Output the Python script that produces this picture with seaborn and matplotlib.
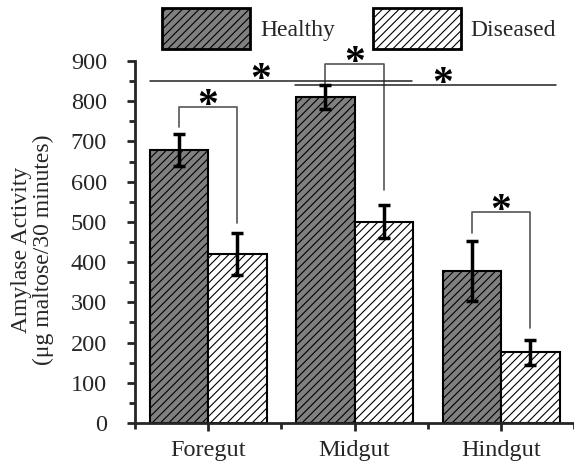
import numpy as np
import pandas as pd
import seaborn as sns
import matplotlib
matplotlib.use('Agg')
import matplotlib.pyplot as plt
from matplotlib.patches import Patch
from matplotlib.ticker import MultipleLocator, FixedLocator

# values
categories = ['Foregut', 'Midgut', 'Hindgut']
conditions = ['Healthy', 'Diseased']
healthy = [679, 810, 378]
diseased = [420, 500, 176]
healthy_err = [40, 30, 75]
diseased_err = [52, 41, 31]

# pairwise brackets (healthy vs diseased within each gut part)
bracket_top = [786, 893, 525]
bracket_left_end = [737, 840, 472]
bracket_right_end = [498, 579, 236]

# long horizontal comparison lines: (start category, end category, level, star position)
long_lines = [(-0.40, 1.39, 851, 0.36), (0.59, 2.375, 840, 1.60)]

hatch_colors = ['#222222', '#666666']

df = pd.DataFrame({
    'Gut': categories * 2,
    'Condition': ['Healthy'] * 3 + ['Diseased'] * 3,
    'Activity': healthy + diseased,
})

sns.set_style('ticks')
plt.rcParams['font.family'] = ['Liberation Serif', 'DejaVu Serif']
plt.rcParams['hatch.linewidth'] = 0.8

fig = plt.figure(figsize=(5.74, 4.61), dpi=100)
ax = fig.add_axes([0.235, 0.0824, 0.7656, 0.7853])

sns.barplot(data=df, x='Gut', y='Activity', hue='Condition', order=categories,
            hue_order=conditions, palette=['#808080', 'white'], edgecolor='black',
            linewidth=1.5, width=0.8, gap=0, errorbar=None, legend=False,
            saturation=1, ax=ax)

bars = ax.patches
for k, p in enumerate(bars[:6]):
    p.set_hatch('////')
    if hasattr(p, 'set_hatchcolor'):
        p.set_hatchcolor(hatch_colors[k // 3])

h_x = [p.get_x() + p.get_width() / 2 for p in bars[:3]]
d_x = [p.get_x() + p.get_width() / 2 for p in bars[3:6]]
h_top = [p.get_height() for p in bars[:3]]
d_top = [p.get_height() for p in bars[3:6]]

ax.errorbar(h_x, h_top, yerr=healthy_err, fmt='none', ecolor='black',
            elinewidth=2.5, capsize=4, capthick=2.5, zorder=5)
ax.errorbar(d_x, d_top, yerr=diseased_err, fmt='none', ecolor='black',
            elinewidth=2.5, capsize=4, capthick=2.5, zorder=5)

star_kw = dict(ha='center', va='center', fontsize=30, fontweight='bold',
               color='black', clip_on=False, zorder=6)

for i in range(3):
    xl, xr = h_x[i], d_x[i]
    ax.plot([xl, xl, xr, xr],
            [bracket_left_end[i], bracket_top[i], bracket_top[i], bracket_right_end[i]],
            color='#555555', lw=1.2, clip_on=False, zorder=4)
    ax.annotate('*', xy=((xl + xr) / 2, bracket_top[i]), xytext=(0, 0),
                textcoords='offset points', **star_kw)

for x0, x1, lvl, xs in long_lines:
    ax.plot([x0, x1], [lvl, lvl], color='#222222', lw=1.1, clip_on=False, zorder=4)
    ax.annotate('*', xy=(xs, lvl), xytext=(0, 0), textcoords='offset points', **star_kw)

ax.set_xlim(-0.5, 2.5)
ax.set_ylim(0, 900)
ax.yaxis.set_major_locator(MultipleLocator(100))
ax.yaxis.set_minor_locator(MultipleLocator(50))
ax.xaxis.set_minor_locator(FixedLocator([-0.5, 0.5, 1.5, 2.5]))

sns.despine(ax=ax)
for s in ['left', 'bottom']:
    ax.spines[s].set_linewidth(2)
ax.tick_params(which='major', direction='out', length=6, width=2, labelsize=17.5)
ax.tick_params(which='minor', direction='out', length=4, width=2)
ax.tick_params(axis='y', which='major', pad=14)
ax.tick_params(axis='x', which='major', pad=6)

ax.set_xlabel('')
ax.set_ylabel('Amylase Activity\n(\u03bcg maltose/30 minutes)', fontsize=17, linespacing=1.0)
ax.yaxis.set_label_coords(-0.185, 0.478)

handles = []
for fc, hc in zip(['#808080', 'white'], hatch_colors):
    h = Patch(facecolor=fc, edgecolor='black', hatch='////', linewidth=2)
    if hasattr(h, 'set_hatchcolor'):
        h.set_hatchcolor(hc)
    handles.append(h)
fig.legend(handles, conditions, loc='upper left', bbox_to_anchor=(162 / 574, 1 - 8 / 461),
           ncol=2, frameon=False, fontsize=17, handlelength=3.73, handleheight=2.3,
           handletextpad=0.42, columnspacing=1.6, borderpad=0, borderaxespad=0)

fig.savefig('out.png', dpi=100)
